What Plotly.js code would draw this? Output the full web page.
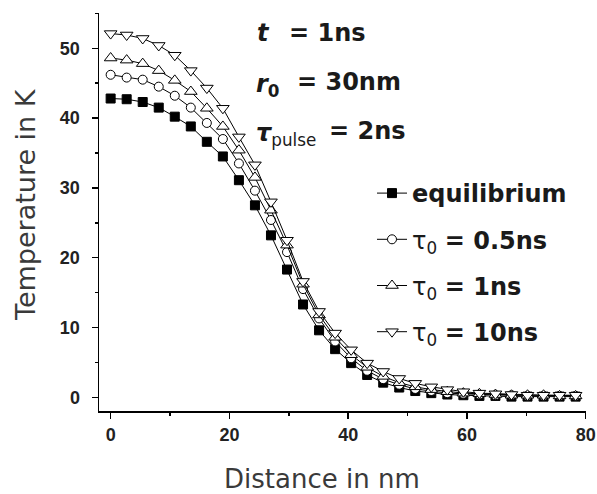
<!DOCTYPE html>
<html>
<head>
<meta charset="utf-8">
<script src="https://cdn.plot.ly/plotly-3.0.1.min.js"></script>
<style>
html,body{margin:0;padding:0;background:#fff;}
#chart{width:597px;height:494px;}
</style>
</head>
<body>
<div id="chart"></div>
<script>
// Distance in nm (sampling step ~2.7 nm)
var distance = [0, 2.7, 5.4, 8.1, 10.8, 13.5, 16.2, 18.9, 21.6, 24.3, 27, 29.7, 32.4, 35.1, 37.8, 40.5, 43.2, 45.9, 48.6, 51.3, 54, 56.7, 59.4, 62.1, 64.8, 67.5, 70.2, 72.9, 75.6, 78.3];

var tempEquilibrium = [42.8, 42.7, 42.3, 41.5, 40.2, 38.8, 36.6, 34.5, 31.1, 27.5, 23.2, 18.3, 13.3, 9.6, 6.9, 4.9, 3.2, 2.1, 1.4, 0.9, 0.6, 0.4, 0.3, 0.2, 0.2, 0.1, 0.1, 0.1, 0.1, 0.1];
var tempTau05 = [46.2, 45.8, 45.5, 44.5, 43.2, 41.5, 39.3, 37.0, 33.5, 29.6, 25.4, 20.8, 15.5, 11.3, 8.0, 5.6, 3.8, 2.6, 1.8, 1.2, 0.9, 0.6, 0.5, 0.4, 0.3, 0.3, 0.2, 0.2, 0.2, 0.2];
var tempTau1 = [48.6, 48.3, 47.8, 46.8, 45.4, 43.8, 41.4, 38.8, 35.4, 31.5, 26.8, 21.8, 16.2, 11.8, 8.6, 6.1, 4.3, 3.0, 2.1, 1.5, 1.1, 0.8, 0.6, 0.5, 0.4, 0.3, 0.3, 0.3, 0.2, 0.2];
var tempTau10 = [52.1, 51.9, 51.4, 50.4, 49.0, 46.8, 44.3, 41.4, 37.3, 33.3, 28.0, 22.5, 16.6, 12.3, 9.2, 6.8, 4.9, 3.7, 2.7, 2.0, 1.5, 1.1, 0.8, 0.6, 0.5, 0.4, 0.3, 0.3, 0.3, 0.3];

var seriesNames = ['<b>equilibrium</b>', 'τ<sub>0</sub> <b>= 0.5ns</b>', 'τ<sub>0</sub> <b>= 1ns</b>', 'τ<sub>0</sub> <b>= 10ns</b>'];
var xTickVals = [0, 20, 40, 60, 80];
var xMinorVals = [10, 30, 50, 70];

var TICKFONT = 'Liberation Sans, Arial, sans-serif';
var FONT = 'DejaVu Sans, Verdana, sans-serif';

function mk(y, name, symbol, fill, size, group) {
  return {
    x: distance, y: y, name: name, type: 'scatter', mode: 'lines+markers',
    legendgroup: group,
    line: {color: '#000', width: 1},
    marker: {symbol: symbol, size: size, color: fill, line: {color: '#000', width: 1}}
  };
}

var data = [
  mk(tempEquilibrium, seriesNames[0], 'square', '#000', 9, 'a'),
  mk(tempTau05, seriesNames[1], 'circle', '#fff', 9, 'b'),
  mk(tempTau1, seriesNames[2], 'triangle-up', '#fff', 11, 'c'),
  mk(tempTau10, seriesNames[3], 'triangle-down', '#fff', 11, 'd')
];

var PL = 99, PR = 586, PT = 13, PB = 411;
function px(x) { return (x - PL) / (PR - PL); }
function py(y) { return (PB - y) / (PB - PT); }

var annFont = {family: FONT, size: 24, color: '#1a1a1a'};

var layout = {
  width: 597, height: 494,
  margin: {l: PL, r: 597 - PR, t: PT, b: 494 - PB},
  paper_bgcolor: '#fff', plot_bgcolor: '#fff',
  showlegend: true,
  legend: {
    x: px(372), y: py(171), xanchor: 'left', yanchor: 'top',
    font: {family: FONT, size: 24, color: '#1a1a1a'},
    bgcolor: 'rgba(0,0,0,0)', tracegroupgap: 12
  },
  xaxis: {
    range: [-1.96, 80.05], showgrid: false, zeroline: false,
    showline: true, linecolor: '#000', linewidth: 1.5,
    ticks: 'outside', ticklen: 6, tickwidth: 1.5, tickcolor: '#000',
    tickvals: xTickVals, ticktext: xTickVals.map(String),
    minor: {tickvals: xMinorVals, ticks: 'outside', ticklen: 3, tickwidth: 1.5, tickcolor: '#000'},
    tickfont: {family: TICKFONT, size: 18, color: '#222', weight: 'bold'},
    ticklabelstandoff: 1, ticklabeloverflow: 'allow'
  },
  yaxis: {
    range: [-1.96, 55.05], showgrid: false, zeroline: false,
    showline: true, linecolor: '#000', linewidth: 1.5,
    ticks: 'outside', ticklen: 6, tickwidth: 1.5, tickcolor: '#000',
    dtick: 10, tick0: 0,
    minor: {dtick: 5, ticks: 'outside', ticklen: 3, tickwidth: 1.5, tickcolor: '#000'},
    tickfont: {family: TICKFONT, size: 18, color: '#222', weight: 'bold'},
    ticklabelstandoff: 8
  },
  annotations: [
    {xref: 'paper', yref: 'paper', x: px(255), y: py(33), xanchor: 'left', yanchor: 'middle', showarrow: false,
     text: '<b><i>t</i></b>', font: annFont},
    {xref: 'paper', yref: 'paper', x: px(287), y: py(33), xanchor: 'left', yanchor: 'middle', showarrow: false,
     text: '<b>= 1ns</b>', font: annFont},
    {xref: 'paper', yref: 'paper', x: px(254), y: py(86), xanchor: 'left', yanchor: 'middle', showarrow: false,
     text: '<b><i>r</i><sub>0</sub></b>', font: annFont},
    {xref: 'paper', yref: 'paper', x: px(295), y: py(82), xanchor: 'left', yanchor: 'middle', showarrow: false,
     text: '<b>= 30nm</b>', font: annFont},
    {xref: 'paper', yref: 'paper', x: px(254), y: py(134), xanchor: 'left', yanchor: 'middle', showarrow: false,
     text: '<b><i>τ</i></b><sub>pulse</sub>', font: annFont},
    {xref: 'paper', yref: 'paper', x: px(327), y: py(131), xanchor: 'left', yanchor: 'middle', showarrow: false,
     text: '<b>= 2ns</b>', font: annFont},
    {xref: 'paper', yref: 'paper', x: px(322), y: py(479), xanchor: 'center', yanchor: 'middle', showarrow: false,
     text: 'Distance in nm', font: {family: FONT, size: 26, color: '#3a3a3a'}},
    {xref: 'paper', yref: 'paper', x: px(25), y: py(205), xanchor: 'center', yanchor: 'middle', showarrow: false,
     textangle: -90, text: 'Temperature in K', font: {family: FONT, size: 27, color: '#3a3a3a'}}
  ]
};

Plotly.newPlot('chart', data, layout, {displayModeBar: false, staticPlot: true});
</script>
</body>
</html>
